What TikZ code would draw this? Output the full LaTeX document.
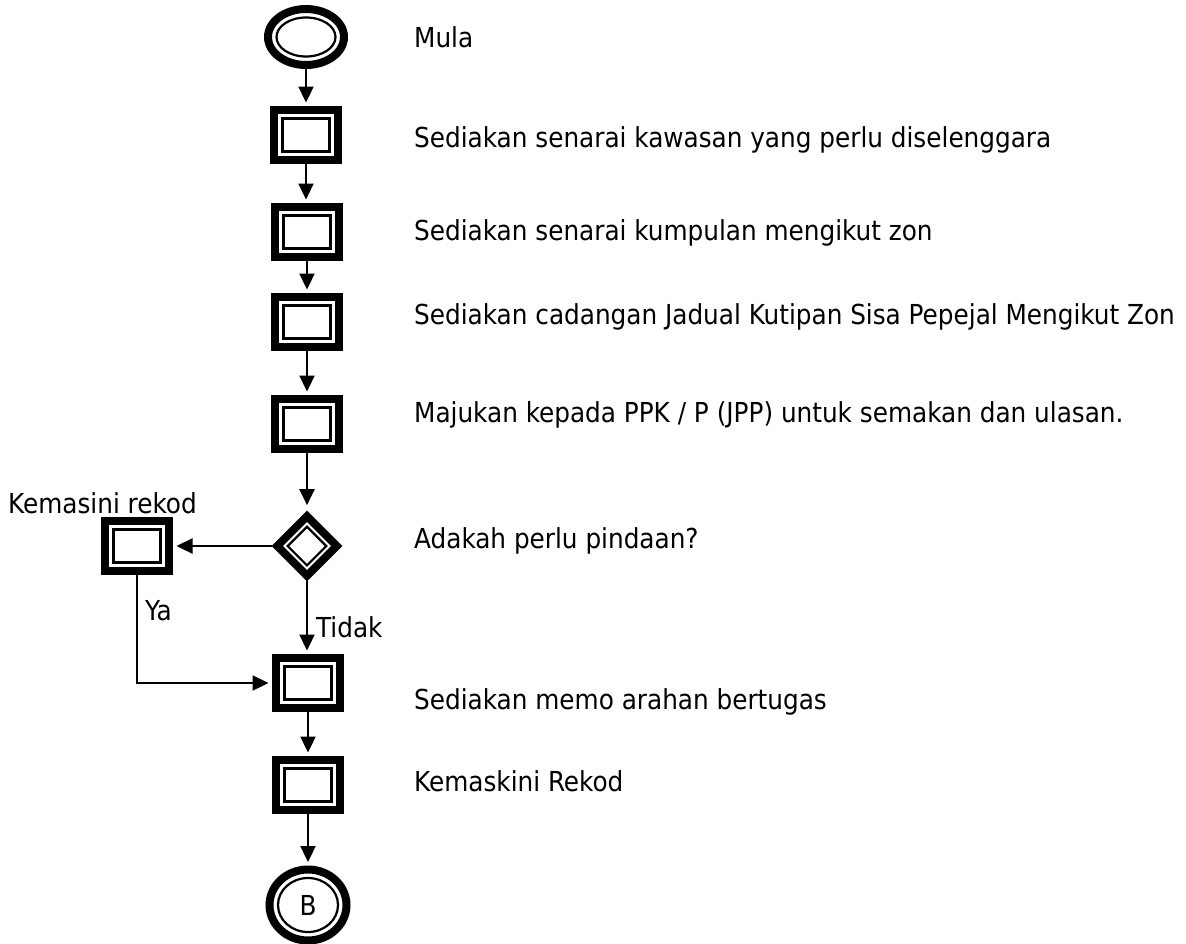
\documentclass[tikz,border=0pt]{standalone}
\usepackage{fontspec}
\setmainfont{DejaVu Sans Condensed}
\usetikzlibrary{shapes.geometric,arrows.meta}
\begin{document}
\begin{tikzpicture}[x=1pt,y=-1pt,
  every node/.style={inner sep=0pt},
  conn/.style={line width=2.3pt,-{Triangle[length=16pt,width=15pt]},shorten >=3.5pt},
  lbl/.style={anchor=base west,font=\fontsize{27.5}{32}\selectfont},
  proc/.style={rectangle,draw,line width=8pt,minimum width=64pt,minimum height=50pt,
    path picture={\draw[line width=2.2pt] ([shift={(8.5pt,8.5pt)}]path picture bounding box.south west) rectangle ([shift={(-8.5pt,-8.5pt)}]path picture bounding box.north east);}},
  startnode/.style={ellipse,draw,line width=8pt,minimum width=76pt,minimum height=56pt,
    path picture={\draw[line width=2.2pt] (path picture bounding box.center) ellipse [x radius=29.5pt,y radius=19.5pt];}},
  endnode/.style={ellipse,draw,line width=8pt,minimum width=77pt,minimum height=71pt,font=\fontsize{27.5}{32}\selectfont,
    path picture={\draw[line width=2.2pt] (path picture bounding box.center) ellipse [x radius=30pt,y radius=27pt];}},
  dec/.style={diamond,draw,line width=8pt,minimum size=62.7pt,
    path picture={\draw[line width=2.2pt] ([shift={(19.3pt,0pt)}]path picture bounding box.center) -- ([shift={(0pt,19.3pt)}]path picture bounding box.center) -- ([shift={(-19.3pt,0pt)}]path picture bounding box.center) -- ([shift={(0pt,-19.3pt)}]path picture bounding box.center) -- cycle;}}
]
\useasboundingbox (0,0) rectangle (1186,943);
\fill[white] (0,0) rectangle (1186,943);

\node[startnode] (s) at (306,37) {};
\node[proc] (b1) at (306,135) {};
\node[proc] (b2) at (307,232) {};
\node[proc] (b3) at (307,322) {};
\node[proc] (b4) at (307,424) {};
\node[dec] (d) at (307,546) {};
\node[proc] (k) at (137,546) {};
\node[proc] (b5) at (308,683) {};
\node[proc] (b6) at (308,785) {};
\node[endnode] (e) at (308,905) {B};

\node[lbl] (t0) at (414,47) {Mula};
\node[lbl] (t1) at (414,147) {Sediakan senarai kawasan yang perlu diselenggara};
\node[lbl] (t2) at (414,240) {Sediakan senarai kumpulan mengikut zon};
\node[lbl] (t3) at (414,324) {Sediakan cadangan Jadual Kutipan Sisa Pepejal Mengikut Zon};
\node[lbl] (t4) at (414,422) {Majukan kepada PPK / P (JPP) untuk semakan dan ulasan.};
\node[lbl] (t5) at (414,548) {Adakah perlu pindaan?};
\node[lbl] (t6) at (414,709) {Sediakan memo arahan bertugas};
\node[lbl] (t7) at (414,791) {Kemaskini Rekod};
\node[lbl] (kl) at (8,513) {Kemasini rekod};
\node[lbl] (ya) at (145,620) {Ya};
\node[lbl] (tidak) at (316,637) {Tidak};

\draw[conn] (s.south) -- (s.south |- b1.north);
\draw[conn] (b1.south) -- (b1.south |- b2.north);
\draw[conn] (b2) -- (b3);
\draw[conn] (b3) -- (b4);
\draw[conn,shorten >=5.5pt] (b4) -- (d);
\draw[conn] (d) -- (k);
\draw[conn] (d.south) -- (d.south |- b5.north);
\draw[conn] (k.south) |- (b5.west);
\draw[conn] (b5) -- (b6);
\draw[conn] (b6) -- (e);
\end{tikzpicture}
\end{document}
